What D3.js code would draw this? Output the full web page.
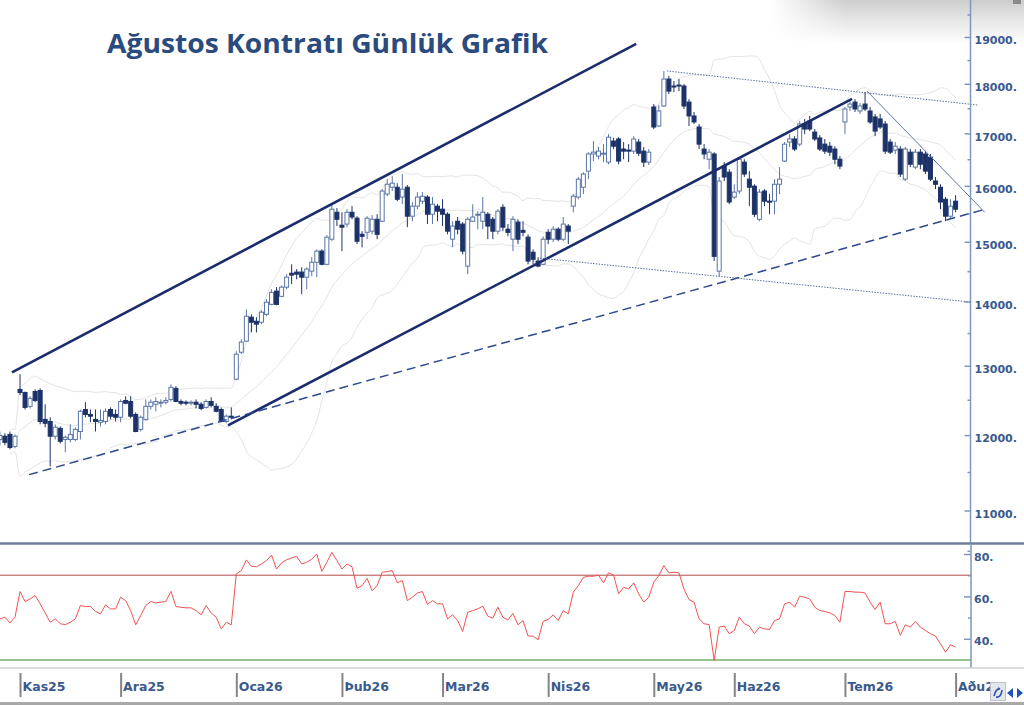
<!DOCTYPE html>
<html><head><meta charset="utf-8">
<script src="https://cdn.jsdelivr.net/npm/d3@7"></script>
<style>html,body{margin:0;padding:0;background:#fff;overflow:hidden}</style>
</head><body>
<svg id="chart" width="1024" height="706"></svg>
<script>
// ---------- DATA ----------
const chartTitle = "Ağustos Kontratı Günlük Grafik";
const monthLabels = ["Kas25","Ara25","Oca26","Þub26","Mar26","Nis26","May26","Haz26","Tem26","Aðu26"];
const monthStart = [4,24,47,68,88,109,130,146,168,190];

const open = [
11940,11985,12010,11845,12650,12605,12405,12620,12635,12220,
12190,11985,12095,11940,11940,11940,12050,12360,12290,12220,
12180,12190,12360,12290,12250,12490,12475,12290,12080,12220,
12405,12435,12450,12465,12505,12665,12475,12465,12450,12465,
12435,12390,12475,12405,12360,12190,12265,12800,13205,13375,
13750,13685,13670,13795,13955,14170,14085,14235,14465,14485,
14485,14400,14500,14650,14840,14615,15045,15520,15290,15310,
15520,15415,15130,15165,15185,15395,15360,15850,15975,15975,
15795,15975,15450,15630,15720,15795,15485,15630,15575,15485,
15045,15360,15310,14585,15360,15470,15360,15485,15395,15185,
15610,15220,15045,15345,15200,15080,14820,14670,14615,15165,
15045,15220,15045,15275,15630,15795,15975,16275,16600,16560,
16600,16445,16850,16890,16695,16675,16655,16830,16655,16445,
17525,17145,17545,18100,17955,17975,17955,17625,17345,17125,
16695,16500,16600,14500,16370,16255,15795,15905,16445,16125,
15995,15395,15905,15720,15720,16030,16465,16830,16890,16790,
17185,17245,17025,16910,16790,16750,16695,16500,17225,17525,
17625,17445,17585,17445,17325,17285,17185,16830,16675,16695,
16125,16635,16350,16635,16600,16540,16090,15975,15755,15450,
15720];
const high = [
12050,12025,12050,12010,12875,12620,12550,12650,12665,12435,
12250,12150,12120,11995,12150,12110,12360,12465,12360,12360,
12360,12375,12390,12360,12505,12550,12550,12320,12275,12505,
12505,12535,12505,12535,12725,12695,12505,12490,12490,12505,
12465,12505,12535,12450,12390,12290,12390,13220,13405,13875,
13795,13750,13860,14040,14200,14235,14265,14450,14615,14535,
14565,14565,14735,14870,14870,15115,15665,15595,15520,15575,
15630,15450,15185,15450,15470,15485,15940,16125,16180,16050,
16220,16015,15705,15885,15885,15830,15795,15665,15755,15520,
15360,15435,15345,15435,15665,15540,15795,15520,15435,15575,
15665,15310,15450,15395,15360,15130,14870,14735,15095,15220,
15275,15255,15435,15310,15850,16165,16255,16635,16850,16735,
16790,16985,16910,16925,16830,16790,16945,16890,16735,16695,
17585,17565,18270,18165,18060,18100,17995,17685,17425,17185,
16790,16695,16635,16165,16445,16310,16030,16540,16500,16275,
16030,15940,15940,15850,16125,16350,16830,16985,16945,17245,
17285,17345,17085,16965,16890,16830,16750,16560,17525,17645,
17685,17605,17830,17525,17385,17385,17245,16890,16830,16750,
16735,16695,16695,16695,16655,16600,16165,16030,15795,15755,
15830];
const low = [
11860,11860,11805,11820,12565,12360,12375,12465,12150,12110,
11575,11940,11885,11765,11900,11915,11940,12250,12180,12050,
12120,12150,12220,12190,12180,12435,12235,12040,12050,12205,
12360,12335,12390,12435,12475,12465,12420,12420,12420,12375,
12350,12375,12390,12320,12180,12165,12220,12785,13175,13360,
13510,13510,13640,13765,13940,13940,14070,14200,14285,14365,
14120,14200,14415,14400,14600,14600,15010,15275,14840,15255,
15395,14960,14905,15045,15130,15045,15345,15810,15905,15720,
15665,15255,15360,15575,15665,15310,15310,15360,15275,15130,
14905,15130,14785,14450,15345,15220,15220,15045,15045,15130,
15185,15095,14840,14960,15095,14615,14615,14565,14600,14960,
14995,15010,15010,14960,15520,15755,15850,16125,16465,16500,
16445,16405,16695,16405,16500,16445,16600,16560,16350,16390,
17085,17125,17525,17790,17830,17850,17485,17145,17185,16695,
16500,16310,14670,14415,16090,15665,15755,15850,16165,15630,
15435,15360,15630,15485,15485,15850,16445,16735,16655,16750,
16985,17045,16850,16655,16600,16560,16405,16310,16985,17445,
17425,17385,17445,17185,16945,17085,16600,16600,16600,16165,
16090,16350,16310,16310,16220,16090,15940,15575,15360,15415,
15520];
const close = [
11995,11900,11830,11985,12605,12390,12520,12490,12190,12165,
11985,12110,11915,11970,12010,12080,12335,12290,12265,12190,
12205,12335,12265,12250,12475,12450,12265,12050,12250,12405,
12465,12475,12465,12490,12680,12475,12450,12450,12465,12435,
12375,12475,12420,12335,12190,12265,12250,13175,13360,13765,
13670,13640,13830,13990,14150,13955,14235,14400,14435,14450,
14400,14535,14650,14840,14615,15080,15575,15395,15255,15520,
15435,15010,15095,15415,15395,15130,15905,16030,16050,15755,
15940,15450,15630,15795,15810,15485,15665,15540,15485,15185,
15275,15220,14840,15395,15435,15485,15520,15275,15185,15540,
15255,15165,15395,15045,15165,14670,14700,14585,15045,15045,
15220,15045,15310,15185,15810,16125,16220,16600,16635,16655,
16615,16925,16750,16465,16655,16655,16890,16615,16445,16635,
17125,17445,18100,17850,17935,17955,17545,17345,17225,16790,
16600,16635,14750,16090,16165,15705,15885,16500,16220,15975,
15485,15885,15720,15705,16030,16125,16790,16890,16695,17185,
17085,17085,16890,16695,16655,16635,16500,16370,17485,17585,
17485,17545,17485,17225,17045,17125,16655,16635,16750,16220,
16695,16405,16635,16405,16275,16125,16030,15705,15450,15630,
15575];
const rsi = [
49.4,50.2,47.5,50.2,62.3,57.6,58.8,60.4,56.5,52.2,
47.8,49.4,47.1,46.7,47.8,49.4,55.7,55.2,55.2,52.9,
51.8,56.0,54.1,54.1,59.6,58.0,53.3,46.6,51.0,55.7,
57.6,56.9,57.3,57.6,62.4,55.2,54.9,54.6,54.6,53.3,
51.3,55.7,52.2,50.2,44.7,47.8,46.6,70.6,72.2,77.2,
74.2,74.0,75.3,76.9,79.5,72.9,75.8,77.3,78.1,78.9,
75.3,76.1,77.6,80.0,71.8,76.1,80.8,76.9,72.9,75.3,
74.0,63.8,65.1,68.5,62.7,65.1,71.4,71.7,72.2,66.4,
67.5,58.0,59.6,61.6,62.3,56.2,58.0,56.5,56.5,49.4,
51.3,48.6,43.5,52.5,53.3,54.1,55.4,50.7,49.7,54.9,
50.2,48.9,52.0,46.6,48.6,41.3,41.3,39.5,48.2,49.1,
51.3,48.6,53.3,51.8,62.0,65.1,69.0,69.5,69.5,70.1,
66.4,71.1,70.1,61.2,64.3,63.5,66.4,61.2,57.3,59.6,
66.7,69.8,74.5,71.1,71.4,71.1,63.5,58.5,57.3,49.4,
47.1,46.7,29.8,45.5,46.0,42.4,43.9,50.2,47.1,46.0,
42.4,45.5,44.7,44.4,48.6,49.4,56.5,57.3,54.9,60.1,
59.6,58.8,54.9,53.3,52.9,52.2,51.0,47.8,62.3,62.3,
62.0,62.0,61.6,57.3,53.8,57.3,47.1,47.1,48.2,41.6,
46.6,45.5,48.2,45.5,43.9,42.4,41.3,37.6,33.7,37.2,
36.1];

const priceMajorTicks = [11000,12000,13000,14000,15000,16000,17000,18000,19000];
const priceMinorTicks = [10500,11500,12500,13500,14500,15500,16500,17500,18500,19500];
const rsiTickValues = [40,60,80];
const rsiMinorTicks = [50,70];
const rsiLevels = [70,30];

// trend lines: [barIndex, price]
const channelTop    = [[2.4,12900],[126.5,18850]];
const channelBottom = [[45.35,12135],[169.4,17690]];
const supportDashed = [[5.8,11465],[195.3,15560]];
const resistDotted  = [[132.6,18270],[194.3,17565]];
const lowerDotted   = [[107.4,14720],[193.3,13990]];
const fallingLine   = [[172.4,17850],[195.8,15520]];

// ---------- DRAW ----------
const svg = d3.select("#chart");
const defs = svg.append("defs");
const NAVY = "#1c3268", HOLLOW = "#5a76a6", AXIS = "#7f96bd", LABEL = "#3a5a8e";

const x  = d3.scaleLinear().domain([0,190]).range([-0.1,955.6]);
const y  = d3.scaleLog().domain([11000,19000]).range([510.5,37]);
const yr = d3.scaleLinear().domain([30,80]).range([660,554]);

svg.append("rect").attr("width",1024).attr("height",706).attr("fill","#fff");

// top-right shading
const vg = defs.append("linearGradient").attr("id","vg").attr("x1",0).attr("y1",0).attr("x2",0).attr("y2",1);
vg.append("stop").attr("offset","0%").attr("stop-color","#cdcdcd");
vg.append("stop").attr("offset","45%").attr("stop-color","#e6e6e6");
vg.append("stop").attr("offset","100%").attr("stop-color","#ffffff");
const hg = defs.append("linearGradient").attr("id","hg").attr("x1",0).attr("y1",0).attr("x2",1).attr("y2",0);
hg.append("stop").attr("offset","0%").attr("stop-color","#000");
hg.append("stop").attr("offset","30%").attr("stop-color","#fff");
hg.append("stop").attr("offset","100%").attr("stop-color","#fff");
defs.append("mask").attr("id","hm").append("rect").attr("x",770).attr("y",0).attr("width",254).attr("height",44).attr("fill","url(#hg)");
svg.append("rect").attr("x",770).attr("y",0).attr("width",254).attr("height",44).attr("fill","url(#vg)").attr("mask","url(#hm)");
svg.append("rect").attr("x",1013).attr("y",0).attr("width",8).attr("height",4).attr("fill","#8a8a8a");

// Bollinger bands (20, 2) from the closes
const bbPeriod = 20;
const bands = close.map((c,i)=>{
  const w = close.slice(Math.max(0,i-bbPeriod+1), i+1);
  const m = d3.mean(w), s = d3.deviation(w) || 0;
  return {i, mid:m, up:m+2*s, lo:m-2*s};
}).slice(2);
["up","mid","lo"].forEach(k=>{
  svg.append("path").datum(bands)
    .attr("d", d3.line().x(d=>x(d.i)).y(d=>y(d[k])).curve(d3.curveMonotoneX))
    .attr("fill","none").attr("stroke","#e3e3e3").attr("stroke-width",1);
});

// candles
const bars = d3.range(close.length).map(i=>({i,o:open[i],h:high[i],l:low[i],c:close[i]}));
const cg = svg.append("g");
const cand = cg.selectAll("g").data(bars).join("g");
cand.append("line")
  .attr("x1",d=>x(d.i)).attr("x2",d=>x(d.i))
  .attr("y1",d=>y(d.h)).attr("y2",d=>y(d.l))
  .attr("stroke",d=>d.c>=d.o?HOLLOW:NAVY).attr("stroke-width",1);
cand.append("rect")
  .attr("x",d=>x(d.i)-2).attr("width",4)
  .attr("y",d=>y(Math.max(d.o,d.c)))
  .attr("height",d=>Math.max(1,Math.abs(y(d.o)-y(d.c))))
  .attr("fill",d=>d.c>=d.o?"#fff":NAVY)
  .attr("stroke",d=>d.c>=d.o?HOLLOW:NAVY).attr("stroke-width",1);

// trend lines
const tl = d3.line().x(d=>x(d[0])).y(d=>y(d[1]));
[channelTop, channelBottom].forEach(p=>svg.append("path").attr("d",tl(p)).attr("fill","none").attr("stroke","#1b2c6c").attr("stroke-width",2.6));
svg.append("path").attr("d",tl(supportDashed)).attr("fill","none").attr("stroke","#2d4a8c").attr("stroke-width",1.5).attr("stroke-dasharray","9,5");
[resistDotted, lowerDotted].forEach(p=>svg.append("path").attr("d",tl(p)).attr("fill","none").attr("stroke","#4e69a3").attr("stroke-width",1).attr("stroke-dasharray","1.4,1.4"));
svg.append("path").attr("d",tl(fallingLine)).attr("fill","none").attr("stroke","#5f76aa").attr("stroke-width",1);

// title
svg.append("text").attr("x",107).attr("y",53).text(chartTitle)
  .attr("font-family","'Open Sans',sans-serif").attr("font-weight",700).attr("font-size",27)
  .attr("fill","#2b4a7d").attr("textLength",441).attr("lengthAdjust","spacingAndGlyphs");

// price axis
svg.append("line").attr("x1",970.5).attr("x2",970.5).attr("y1",0).attr("y2",544).attr("stroke",AXIS).attr("stroke-width",1.5);
const pa = svg.append("g").attr("transform","translate(970.5,0)")
  .call(d3.axisLeft(y).tickValues(priceMajorTicks).tickSize(6).tickFormat(""));
pa.select(".domain").remove();
pa.selectAll(".tick line").attr("stroke",AXIS).attr("stroke-width",1.5);
const pm = svg.append("g").attr("transform","translate(970.5,0)")
  .call(d3.axisLeft(y).tickValues(priceMinorTicks).tickSize(3).tickFormat(""));
pm.select(".domain").remove();
pm.selectAll(".tick line").attr("stroke",AXIS).attr("stroke-width",1.5);
const pl = svg.append("g").attr("transform","translate(970.5,0)")
  .call(d3.axisRight(y).tickValues(priceMajorTicks).tickSize(0).tickPadding(4).tickFormat(d=>d+"."));
pl.select(".domain").remove();
pl.selectAll("text").attr("dy","0.62em").attr("fill",LABEL)
  .attr("font-family","'DejaVu Sans',sans-serif").attr("font-weight","bold").attr("font-size",11);

// panel separator
svg.append("line").attr("x1",0).attr("x2",1024).attr("y1",543.5).attr("y2",543.5).attr("stroke","#6f809a").attr("stroke-width",2.5);

// RSI panel
rsiLevels.forEach((v,k)=>svg.append("line").attr("x1",0).attr("x2",971).attr("y1",yr(v)).attr("y2",yr(v))
  .attr("stroke",k===0?"#b04a4a":"#72b067").attr("stroke-width",k===0?1:1.6));
svg.append("path").datum(rsi)
  .attr("d",d3.line().x((d,i)=>x(i)).y(d=>yr(d)))
  .attr("fill","none").attr("stroke","#f25252").attr("stroke-width",1);
svg.append("line").attr("x1",971).attr("x2",971).attr("y1",545).attr("y2",668).attr("stroke",AXIS).attr("stroke-width",1.5);
const ra = svg.append("g").attr("transform","translate(971,0)")
  .call(d3.axisLeft(yr).tickValues(rsiTickValues).tickSize(7).tickFormat(""));
ra.select(".domain").remove();
ra.selectAll(".tick line").attr("stroke",AXIS).attr("stroke-width",1.5);
const rm = svg.append("g").attr("transform","translate(971,0)")
  .call(d3.axisLeft(yr).tickValues(rsiMinorTicks).tickSize(3).tickFormat(""));
rm.select(".domain").remove();
rm.selectAll(".tick line").attr("stroke",AXIS).attr("stroke-width",1.5);
const rl = svg.append("g").attr("transform","translate(971,0)")
  .call(d3.axisRight(yr).tickValues(rsiTickValues).tickSize(0).tickPadding(3).tickFormat(d=>d+"."));
rl.select(".domain").remove();
rl.selectAll("text").attr("dy","0.55em").attr("fill",LABEL)
  .attr("font-family","'DejaVu Sans',sans-serif").attr("font-weight","bold").attr("font-size",11);

// time axis
svg.append("line").attr("x1",0).attr("x2",1024).attr("y1",668).attr("y2",668).attr("stroke","#cfcfcf").attr("stroke-width",1.5);
const ta = svg.append("g").attr("transform","translate(0,673)")
  .call(d3.axisBottom(x).tickValues(monthStart).tickSize(24).tickFormat(""));
ta.select(".domain").remove();
ta.selectAll(".tick line").attr("stroke","#858585").attr("stroke-width",2);
svg.append("g").selectAll("text").data(monthStart).join("text")
  .attr("x",d=>x(d)+2.5).attr("y",691).text((d,k)=>monthLabels[k])
  .attr("fill",LABEL).attr("font-family","'DejaVu Sans',sans-serif").attr("font-weight","bold").attr("font-size",12.5);
svg.append("line").attr("x1",0).attr("x2",1024).attr("y1",703.5).attr("y2",703.5).attr("stroke","#a9a9a9").attr("stroke-width",3);

// bottom-right widgets
svg.append("rect").attr("x",990.5).attr("y",682.5).attr("width",15).attr("height",18).attr("fill","#e3e7ed").attr("stroke","#b9c1cc");
svg.append("path").attr("d","M994,696 q2,-8 6,-7 M1000,689 l-2,-1 M1002,690 q-1,8 -6,7").attr("fill","none").attr("stroke","#2c55a8").attr("stroke-width",1.6);
svg.append("path").attr("d","M1013,688 L1007,693 L1013,698 Z M1017,688 L1023,693 L1017,698 Z").attr("fill","#1f52b8");
</script>
</body></html>
